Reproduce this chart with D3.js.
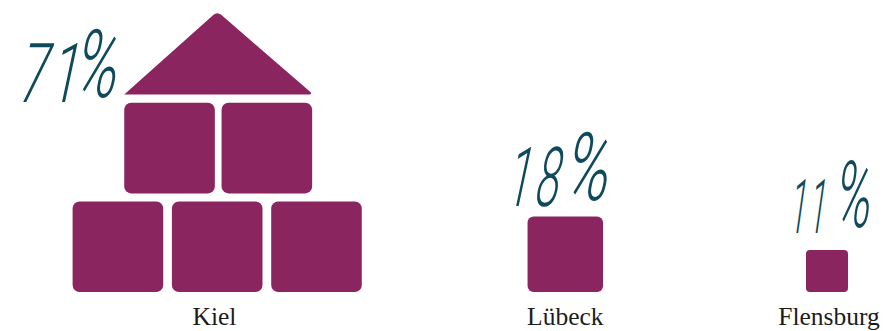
<!DOCTYPE html>
<html>
<head>
<meta charset="utf-8">
<script src="https://cdn.jsdelivr.net/npm/d3@7/dist/d3.min.js"></script>
<style>
html,body{margin:0;padding:0;background:#fff;}
svg{display:block;}
.city{font-family:"Liberation Serif",serif;font-size:25.5px;fill:#1c1c1c;text-anchor:middle;}
.hand{font-family:Roboto,sans-serif;font-weight:300;fill:#0f4a5c;}
</style>
</head>
<body>
<svg id="chart" width="883" height="331"></svg>
<script>
// Share of students by city, shown as stacks of building blocks.
const cities = ["Kiel", "Lübeck", "Flensburg"];
const shares = [71, 18, 11];

const baseY = 292, labelY = 325;
const BLOCK = "#8b2560";

const svg = d3.select("#chart");

const xCenter = d3.scaleOrdinal().domain(cities).range([217.2, 565.3, 827]);
const blockSide = d3.scaleLinear().domain([11, 18, 71]).range([42, 75.5, 90.6]);
const radius = d3.scaleLinear().domain([42, 91]).range([4, 7]);

// Kiel is built as a house: three blocks, two blocks, then a roof.
// The other cities get a single block.
const houseRows = [[-1, 0, 1], [-0.48, 0.5]];
const colPitch = 99.3, rowPitch = 98.6;

cities.forEach((city, i) => {
  const side = blockSide(shares[i]);
  const cx = xCenter(city);
  const rows = shares[i] > 50 ? houseRows : [[0]];
  const g = svg.append("g").attr("class", "city-blocks");

  rows.forEach((cols, r) => {
    g.selectAll(null).data(cols).join("rect")
      .attr("x", c => cx + c * colPitch - side / 2)
      .attr("y", baseY - side - r * rowPitch)
      .attr("width", side)
      .attr("height", side)
      .attr("rx", radius(side))
      .attr("fill", BLOCK);
  });

  if (rows.length > 1) {
    // Roof spans the upper row of blocks, with a rounded ridge and right eave.
    const topRowY = baseY - side - (rows.length - 1) * rowPitch;
    const eave = topRowY - 8.4;
    const left = cx + rows[1][0] * colPitch - side / 2;
    const right = cx + rows[1][1] * colPitch + side / 2 + 1;
    const ridge = [cx, eave - 83];
    const roof = d3.path();
    roof.moveTo(left, eave);
    roof.arcTo(ridge[0], ridge[1], right, eave, 6);
    roof.arcTo(right, eave, left, eave, 1.2);
    roof.closePath();
    g.append("path").attr("d", roof.toString()).attr("fill", BLOCK);
  }

  svg.append("text")
    .attr("class", "city")
    .attr("x", cx + (i === 0 ? -2.7 : i === 2 ? 2 : 0))
    .attr("y", labelY)
    .text(city);
});

// Hand-lettered percentages: tall, slanted digits with a raised percent sign.
const handPlacement = [
  {x: 16, y: 102, skew: -12, dx: 54, dy: -5, size: 60, sx: 0.85, sy: 1.38, spx: 4, psx: 0.97, psy: 1.58},
  {x: 504, y: 206, skew: -12, dx: 56, dy: -6, size: 60, sx: 0.72, sy: 1.38, spx: 6, psx: 1.0, psy: 1.58},
  {x: 788, y: 233, skew: -8, dx: 44, dy: -6, size: 54, sx: 0.55, sy: 1.4, spx: 5, psx: 0.9, psy: 1.72}
];

cities.forEach((city, i) => {
  const p = handPlacement[i];
  const g = svg.append("g").attr("transform", `translate(${p.x},${p.y}) skewX(${p.skew})`);
  g.append("text").attr("class", "hand")
    .attr("font-size", p.size)
    .attr("letter-spacing", p.spx)
    .attr("transform", `scale(${p.sx},${p.sy})`)
    .text(shares[i]);
  g.append("text").attr("class", "hand")
    .attr("font-size", p.size)
    .attr("font-weight", 200)
    .attr("transform", `translate(${p.dx},${p.dy}) scale(${p.psx},${p.psy})`)
    .text("%");
});
</script>
</body>
</html>
